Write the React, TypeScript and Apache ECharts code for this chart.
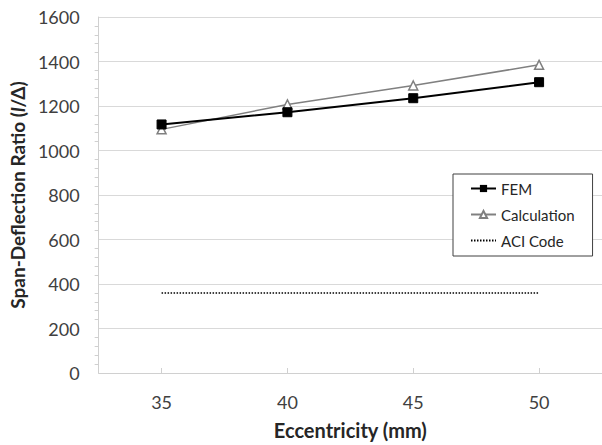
import React, { useEffect, useRef } from "react";
import * as echarts from "echarts";

const categories = ["35", "40", "45", "50"];
const femValues = [1117, 1172, 1235, 1307];
const calcValues = [1095, 1207, 1292, 1385];
const aciValues = [360, 360, 360, 360];
const yTicks = { min: 0, max: 1600, interval: 200 };

const FONT = "Lato, 'Open Sans', sans-serif";

export default function App() {
  const ref = useRef<HTMLDivElement>(null);
  useEffect(() => {
    if (!ref.current) return;
    const chart = echarts.init(ref.current, undefined, { renderer: "svg" });
    chart.setOption({
      animation: false,
      backgroundColor: "#ffffff",
      textStyle: { fontFamily: FONT },
      grid: { left: 95, top: 17, width: 511, height: 357, containLabel: false },
      legend: {
        orient: "vertical",
        left: 453,
        top: 174,
        padding: [7, 18, 8, 17],
        itemGap: 11,
        itemWidth: 25,
        itemHeight: 9,
        backgroundColor: "#ffffff",
        borderColor: "#404040",
        borderWidth: 1,
        borderRadius: 0,
        textStyle: { fontFamily: FONT, fontSize: 15, color: "#262626", lineHeight: 14 },
        data: [
          "FEM",
          "Calculation",
          { name: "ACI Code", itemStyle: { opacity: 0 } },
        ],
      },
      xAxis: {
        type: "category",
        data: categories,
        boundaryGap: true,
        name: "Eccentricity (mm)",
        nameLocation: "middle",
        nameGap: 47,
        nameTextStyle: { fontFamily: FONT, fontSize: 20, fontWeight: "bold", color: "#262626" },
        axisLine: { show: true, lineStyle: { color: "#d0d0d0", width: 1 } },
        axisTick: { show: true, alignWithLabel: true, inside: true, length: 5, lineStyle: { color: "#d0d0d0" } },
        axisLabel: { fontFamily: FONT, fontSize: 18, color: "#404040", margin: 20 },
        splitLine: { show: false },
      },
      yAxis: {
        type: "value",
        min: yTicks.min,
        max: yTicks.max,
        interval: yTicks.interval,
        name: "{a|Span-Deflection Ratio (}{i|l}{a|/Δ)}",
        nameLocation: "middle",
        nameGap: 67,
        nameRotate: 90,
        nameTextStyle: {
          rich: {
            a: { fontFamily: FONT, fontSize: 19, fontWeight: "bold", color: "#262626" },
            i: { fontFamily: FONT, fontSize: 19, fontWeight: "bold", fontStyle: "italic", color: "#262626" },
          },
        },
        axisLine: { show: true, lineStyle: { color: "#d0d0d0", width: 1 } },
        axisTick: { show: false },
        minorTick: { show: true, splitNumber: 5, length: 4, lineStyle: { color: "#d0d0d0" } },
        axisLabel: {
          fontFamily: FONT,
          fontSize: 18,
          color: "#404040",
          margin: 19,
          formatter: (v: number) => String(v),
        },
        splitLine: { show: true, lineStyle: { color: "#d9d9d9", width: 1 } },
      },
      series: [
        {
          name: "FEM",
          type: "line",
          data: femValues,
          symbol: "rect",
          symbolSize: 9,
          lineStyle: { color: "#000000", width: 2 },
          itemStyle: { color: "#000000", borderColor: "#000000" },
          z: 3,
        },
        {
          name: "Calculation",
          type: "line",
          data: calcValues,
          symbol: "triangle",
          symbolSize: 9,
          lineStyle: { color: "#808080", width: 1.5 },
          itemStyle: { color: "#ffffff", borderColor: "#808080", borderWidth: 1.5 },
          z: 2,
        },
        {
          name: "ACI Code",
          type: "line",
          data: aciValues,
          symbol: "none",
          lineStyle: { color: "#000000", width: 1.5, type: [1.5, 1.5] },
          itemStyle: { color: "#000000" },
          z: 2,
        },
      ],
    });
    return () => chart.dispose();
  }, []);
  return <div ref={ref} style={{ width: 602, height: 445, position: "absolute", left: 0, top: 0 }} />;
}
